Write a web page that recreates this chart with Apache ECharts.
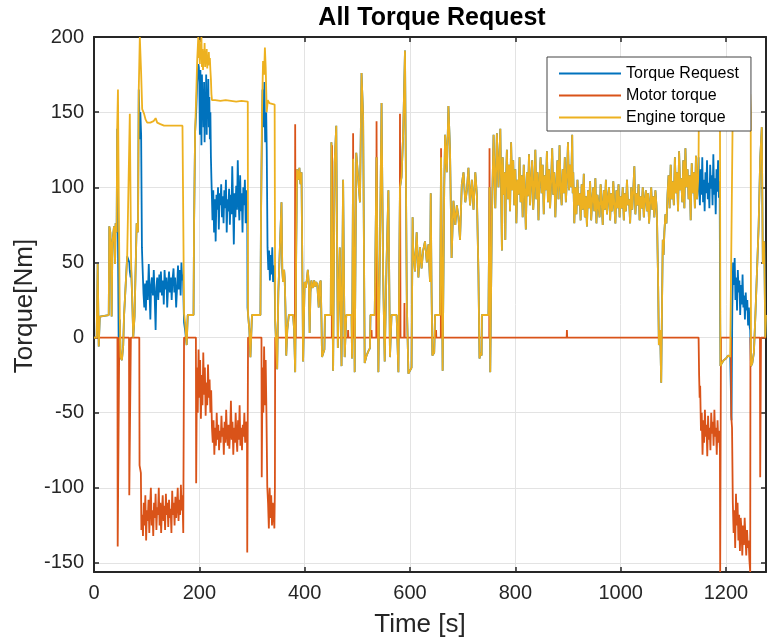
<!DOCTYPE html>
<html>
<head>
<meta charset="utf-8">
<script src="https://cdn.jsdelivr.net/npm/echarts@6/dist/echarts.min.js"></script>
<style>
html,body{margin:0;padding:0;background:#fff;}
#chart{width:767px;height:638px;}
</style>
</head>
<body>
<div id="chart"></div>
<script>
// ---- Data (time [s], torque [Nm]) ----
const seriesNames = ['Torque Request', 'Motor torque', 'Engine torque'];
const xTicks = [0, 200, 400, 600, 800, 1000, 1200];
const yTicks = [-150, -100, -50, 0, 50, 100, 150, 200];

const engineTorque = [
[0,0],[5,0],[7,49],[9,-6],[11,14],[12,15],[28,15],[29,74],[31,70],[32,60],[33.5,14],[35,63],[38,74],[40,49],[41,76],[43,70],[44,139],[45.5,165],[47,94],[49,12],[50.5,-13],[53,-15],[55.5,-5],[57,14],[60,15],[63,54],[66,54],[68,149],[70.5,49],[72.5,27],[74.5,0],[77,14],[79,14],[81,76],[83.5,70],[85,165],[87,200],[89.5,176],[91.5,152],[95,149],[98,145],[101,143],[107,143],[110,144],[113,144],[117,146],[120,143],[126,142],[133,141],[150,141],[168,141],[170,140],[171,16],[173,10],[176,-5],[178,15],[189,15],[190,75],[192,137],[194,160],[196,185],[198,200],
[199,186],[200,198],[201,182],[202,195],[203,185],[204,200],[205,180],[206,192],[207,178],[208,190],[209,183],[210,196],[211,180],[212,188],[213,184],[214,192],[215,179],[216,187],[217,181],[218,190],[219,182],[220,186],[221,178],[222,172],[223,162],[224,158],[230,158],[240,157.5],[250,158],[260,157.5],[270,157],[280,157.5],[292,157],
[292.5,15],[295,5],[297,-13],[299,-12],[300,15],[316,15],[317,75],[319,150],[321,184],[323,175],[324.5,193],[326,180],[328,150],[330,158],[333,156],[343,155],
[344,11],[347.8,-21],[350,30],[353,60],[356,90],[357.5,45],[359,37],[361,45],[362,40],[363.5,20],[365,-12],[367,5],[370,15],[378,15],[380,5],[382,-23],[384,60],[385.5,112],[388,105],[390,113],[392,102],[394,110],[396,30],[397,-16],[399,20],[400,37],
[402,33],[404,38],[406,45],[408,35],[409.5,3],[411,30],[412.7,38],[414,35],[416,33],[418,38],[420,34],[422,37],[424,35],[426.7,20],[428.5,36],[430.5,38],[432,10],[433,-13],[436,-12],[437.5,-8],[438.5,15],[449.5,15],
[450.8,130],[454,-22],[457,117],[460,141],[463,-7],[466.7,60],[470,-19],[473,105],[476,-13],[479,15],[489,15],[490,-14],[492,119],[495,-23],[498,123],[501.6,124],[505,90],[508,176],[511,147],[514,-17],[517.5,-12],[521,-9],[524,-7],[525,15],[533,15],[536.5,120],[540,-23],[543,60],[546,156],[549,42],[552,-16],[555.5,50],[559,98],[562,-13],[565,15],[574.6,15],[578,-23],[581,100],[584,107],[587,135],[590.5,191],[592,120],[594,23],[597,-24],[600,-25],[603,-20],[605,80],
[606,60],[609.5,44],[612.7,70],[616,40],[619,60],[622,46],[625,58],[628.5,64],[632,50],[635,62],[638,37],[639.4,96],[641,30],[642.5,-12],[646,-10],[647.6,15],[657,15],[659,120],[662,-22],[665,100],[666.7,135],[670,110],[673,154],[676,125],[679,53],[682.5,91],[686,75],[689,88],[692,80],[695,65],[698.4,102],[701.6,110],[705,90],[708,98],[711,113],[714,88],[717.5,105],[720.6,85],[724,110],[727,95],[729,60],[730,42],[732,-14],[734,-10],[736,-12],[736.5,15],[749,15],[751,100],[752.4,-23],[755.5,80],[758.7,135],[762,86],[765,136],[768,100],[771.5,139],[774.6,58],
[776,120],[778,95],[780,110],[781,65],[782,100],[784,125],[786,92],[788,115],[790,84],[792,130],[794,98],[796,118],[798,88],[800,112],[802,76],[804,105],[806,95],[808,120],[810,90],[812,108],[814,80],[816,115],[818,98],[820,72],[822,110],[824,94],[826,122],[828,88],[830,104],[832,118],[834,85],[836,100],[838,125],[840,92],[842,110],[844,78],[846,106],[848,120],[850,96],[852,115],[854,82],[856,108],[858,98],[860,124],[862,90],[864,112],[866,86],[868,104],[870,126],[872,95],[874,110],[876,80],[878,102],[880,118],[882,92],[884,128],[886,100],[888,88],[890,112],[892,96],[894,120],[896,90],[898,106],[900,130],[902,98],[904,115],[906,100],[908,135],[909,96],[910,110],[912,76],[914,100],[916,82],[918,105],[920,88],[922,96],[924,78],[926,102],[928,85],[930,109],[932,80],[934,94],[936,74],[938,98],[940,86],[942,104],[944,78],[946,92],[948,100],[950,84],[952,106],[954,76],[956,95],[958,88],[960,80],[962,102],[964,90],[966,75],[968,98],[970,85],[972,105],[974,82],[976,93],[978,100],[980,78],[982,96],[984,84],[986,104],[988,88],[990,76],[992,98],[994,86],[996,102],[998,80],[1000,94],[1002,86],[1004,100],[1006,78],[1008,96],[1010,84],[1012,105],[1014,88],[1016,92],[1018,76],[1020,100],[1022,85],[1024,98],[1026,114],[1028,82],[1030,96],[1032,88],[1034,102],[1036,78],[1038,94],[1040,86],[1042,100],[1044,80],[1046,92],[1048,98],[1050,84],[1052,96],[1054,76],[1056,90],[1058,100],[1060,85],[1062,94],[1064,80],[1066,98],[1068,88],[1069,80],[1071,40],[1072.6,-5],[1075,5],[1077,-30],[1078.5,20],[1080,65],[1081.5,55],[1083,70],[1085,82],[1087,76],[1089,95],[1091,108],[1093,86],[1095,115],[1097,92],[1099,104],[1101,88],[1103,120],[1105,96],[1107,110],[1109,84],[1111,124],[1113,98],[1115,106],[1117,90],[1119,118],[1121,86],[1123,126],[1125,100],[1127,112],[1129,92],[1131,108],[1133,78],[1135,116],[1137,96],[1139,110],[1141,86],[1143,121],[1145,92],[1147,104],[1148,120],
[1148.7,160],[1149.5,170],[1151,155],[1153,175],[1155,150],[1157,168],[1159,158],[1161,178],[1163,152],[1165,170],[1167,160],[1169,176],[1171,150],[1173,166],[1175,158],[1177,174],[1179,155],[1181,168],[1183,150],[1185,172],[1187,160],[1188.5,165],[1189.5,-19],[1192,-17],[1196,-15],[1200,-14],[1204,-12],[1208,-13],[1211,-12],[1212.5,140],[1214,165],[1216,150],[1218,172],[1220,158],[1222,176],[1224,150],[1226,168],[1228,155],[1230,178],[1232,160],[1234,170],[1236,152],[1238,166],[1240,158],[1242,175],[1244,150],[1246,162],[1247,150],[1247.5,-19],[1250,-17],[1253,-10],[1256,16],[1259,16],[1262,74],[1265,119],[1268,140],[1270,49],[1272.7,64],[1274.6,0],[1276,15]
];

const motorTorque = [
[0,0],[44.5,0],[45,-139],[47.5,-139],[48,0],[66.5,0],[67,-105],[69.5,-105],[70,0],[86,0],[86.5,-85],[89,-90],[90,-128],[91.5,-118],[93,-132],[94.5,-110],[96,-125],[97.5,-105],[99,-135],[100.5,-115],[102,-122],[103.5,-108],[105,-130],[106.5,-112],[108,-100],[109.5,-125],[111,-115],[112.5,-132],[114,-110],[115.5,-120],[117,-104],[118.5,-128],[120,-113],[121.5,-118],[123,-100],[124.5,-125],[126,-110],[127.5,-130],[129,-115],[130.5,-105],[132,-122],[133.5,-112],[135,-128],[136.5,-104],[138,-118],[139.5,-110],[141,-126],[142.5,-108],[144,-120],[145.5,-114],[147,-130],[148.5,-102],[150,-118],[151.5,-110],[153,-125],[154.5,-106],[156,-120],[157.5,-112],[159,-100],[160.5,-122],[162,-108],[163.5,-118],[165,-98],[166.5,-115],[168,-105],[169.5,-130],[170.5,-130],[171,0],
[193.5,0],[194,-97],[195.5,-20],[197,-50],[198.5,-8],[200,-40],[201.5,-15],[203,-54],[204.5,-25],[206,-45],[207.5,-10],[209,-38],[210.5,-20],[212,-52],[213.5,-30],[215,-45],[216.5,-18],[218,-40],[219.5,-28],[221,-50],[222.5,-35],[224,-60],[225.5,-70],[227,-55],[228.5,-78],[230,-60],[231.5,-72],[233,-50],[234.5,-68],[236,-58],[237.5,-75],[239,-62],[240.5,-70],[242,-52],[243.5,-66],[245,-60],[246.5,-78],[248,-56],[249.5,-70],[251,-48],[252.5,-64],[254,-72],[255.5,-58],[257,-74],[258.5,-62],[260,-42],[261.5,-68],[263,-56],[264.5,-78],[266,-60],[267.5,-70],[269,-50],[270.5,-66],[272,-76],[273.5,-55],[275,-68],[276.5,-45],[278,-72],[279.5,-60],[281,-75],[282.5,-58],[284,-66],[285.5,-50],[287,-70],[288.5,-56],[290.5,-60],[291,-143],[292,-143],[292.5,0],
[318,0],[318.5,-93],[320,-20],[321.5,-50],[323,-6],[324.5,-45],[326,-15],[327.5,-52],[329,-99],[330.5,-110],[332,-127],[333.5,-100],[335,-120],[336.5,-105],[338,-125],[339.5,-110],[341,-118],[342.5,-127],[343.5,-100],[344,0],
[381.5,0],[382,142],[383,0],[451.5,0],[452,128],[453,62],[453.5,0],[482,0],[482.5,5],[483,0],[491.5,0],[492,136],[493,0],[526.5,0],[527,5],[527.5,0],[536,0],[536.5,144],[537.5,0],[580.5,0],[581,149],[582,0],[589,0],[589.5,23],[590,0],[649,0],[649.5,5],[650,0],[658.5,0],[659,126],[660,0],[750.5,0],[751,126],[752,0],[897.5,0],[898,5],[898.5,0],
[1148,0],[1149,-25],[1150,-40],[1151,-32],[1152.5,-62],[1154,-50],[1155.5,-78],[1157,-55],[1158.5,-70],[1160,-48],[1161.5,-66],[1163,-58],[1164.5,-79],[1166,-52],[1167.5,-68],[1169,-60],[1170.5,-75],[1172,-50],[1173.5,-64],[1175,-56],[1176.5,-72],[1178,-48],[1179.5,-66],[1181,-60],[1182.5,-78],[1184,-55],[1185.5,-70],[1187,-62],[1188.5,-74],[1189,-156],[1190,-156],[1190.5,0],
[1209.5,0],[1210,-52],[1211.5,-60],[1213,-110],[1214.5,-130],[1216,-115],[1217.5,-140],[1219,-104],[1220.5,-125],[1222,-110],[1223.5,-135],[1225,-118],[1226.5,-142],[1228,-120],[1229.5,-128],[1231,-145],[1232.5,-125],[1234,-138],[1235.5,-120],[1237,-132],[1238.5,-145],[1240,-128],[1241.5,-140],[1243,-135],[1244.5,-148],[1246,-156],[1246.5,0],[1264.5,0],[1265,-93],[1266,-93],[1266.5,0],[1276,0]
];

const requestOwnA = [
[44,139],[45,138],[46,40],[47,-15],[49,12],[50.5,-13],[53,-15],[55.5,-5],[57,14],[60,15],[63,54],[66,54],[67,50],[68,44],[69.5,40],[70.5,45],[72.5,27],[74.5,0],[77,14],[79,14],[81,76],[83.5,70],[85,165],[86,150],[87,132],[88,150],[89.5,135],[91,60],
[92,49],[94,29],[95.5,20],[97,36],[98.5,18],[100,38],[102,25],[104,49],[105.5,30],[107,12],[108.5,35],[110,40],[112,28],[113.5,45],[115,30],[117,5],[118.5,33],[120,40],[122,25],[124,42],[125.5,30],[127,44],[129,28],[131,38],[132.5,22],[134,45],[136,32],[137.5,40],[139,20],[141,36],[142.5,44],[144,30],[146,40],[147.5,25],[149,38],[151,46],[152.5,30],[154,40],[156,20],[158,35],[159.5,48],[161,32],[163,45],[164.5,28],[166,50],[167.5,38],[169,42],[170,25],[171,10],[173,5],[176,-5],[178,15],[189,15],[190,75],[192,137],[194,150],[196,170],[198,182],
[199,180],[200,170],[201,135],[202,178],[203,160],[204,128],[205,175],[206,150],[207,165],[208,140],[209,170],[210,130],[211,160],[212,145],[213,175],[214,135],[215,165],[216,150],[217,172],[218,140],[219,160],[220,132],[221,150],[222,120],[223,105],[224,92],
[225,78],[226.5,98],[228,70],[229.5,92],[231,64],[232.5,95],[234,85],[235.5,100],[237,72],[238.5,96],[240,88],[241.5,102],[243,80],[244.5,94],[246,76],[247.5,98],[249,86],[250.5,105],[252,70],[253.5,92],[255,84],[256.5,99],[258,75],[259.5,95],[261,82],[262.5,114],[264,90],[265.5,62],[267,96],[268.5,80],[270,101],[271.5,85],[273,118],[274.5,92],[276,78],[277.5,108],[279,84],[280.5,96],[282,70],[283.5,100],[285,88],[286.5,105],[288,76],[289.5,98],[291,90],[291.5,20],[295,5],[297,-13],[299,-12],[300,15],[316,15],[317,75],[318,110],[320,165],[322,140],[323.5,170],[325,130],[327,150],[328,125],[329.5,60],[331,45],[332.5,58],[334,38],[335.5,55],[337,42],[338.5,60],[340,37],[341.5,48],[343,40]
];

const requestOwnB = [
[1149,100],[1150.5,88],[1152,112],[1153.5,95],[1155,120],[1156.5,90],[1158,105],[1159.5,84],[1161,110],[1162.5,96],[1164,118],[1165.5,92],[1167,103],[1168.5,86],[1170,115],[1171.5,99],[1173,108],[1174.5,88],[1176,122],[1177.5,95],[1179,106],[1180.5,82],[1182,112],[1183.5,97],[1185,118],[1186.5,93],[1188,104],[1189,9],[1189.5,-19],[1192,-17],[1196,-15],[1200,-14],[1204,-12],[1208,-13],[1210,-12],[1210.5,-55],[1212,20],[1213.5,50],[1215,35],[1216.5,53],[1218,25],[1219.5,40],[1221,18],[1222.5,45],[1224,30],[1225.5,38],[1227,15],[1228.5,35],[1230,22],[1231.5,42],[1233,20],[1234.5,28],[1236,12],[1237.5,30],[1239,18],[1240.5,25],[1242,8],[1243.5,20],[1245,7],[1246,5]
];

// Where the request equals the engine torque, the same read values are reused.
const torqueRequest = engineTorque.filter(p => p[0] < 44)
  .concat(requestOwnA)
  .concat(engineTorque.filter(p => p[0] > 343.5 && p[0] < 1148.5))
  .concat(requestOwnB)
  .concat(engineTorque.filter(p => p[0] > 1247));

// ---- Chart ----
const colors = ['#0072BD', '#D95319', '#EDB120'];
const textColor = '#262626';
const FONT = 'Liberation Sans, Arial, Helvetica, sans-serif';
const chart = echarts.init(document.getElementById('chart'), null, {renderer: 'canvas'});

function mkLine(name, data, color) {
  return {
    name: name, type: 'line', data: data, showSymbol: false, symbol: 'none',
    lineStyle: {color: color, width: 1.8}, itemStyle: {color: color},
    animation: false, silent: true, z: 2
  };
}
const axisLineStyle = {color: textColor, width: 2};
const tickStyle = {show: true, inside: true, length: 5, lineStyle: {color: textColor, width: 1.5}};

chart.setOption({
  animation: false,
  backgroundColor: '#fff',
  grid: {left: 94, top: 37, right: 1, bottom: 66, show: false},
  xAxis: [{
    type: 'value', min: 0, max: 1276, interval: 200,
    axisLine: {show: true, onZero: false, lineStyle: axisLineStyle},
    axisTick: tickStyle,
    axisLabel: {color: textColor, fontSize: 20, fontFamily: FONT, margin: 11, showMaxLabel: false,
      formatter: v => (xTicks.indexOf(v) >= 0 ? String(v) : '')},
    splitLine: {show: true, lineStyle: {color: '#e3e3e3', width: 1}}
  }, {
    type: 'value', position: 'top', min: 0, max: 1276, interval: 200,
    axisLine: {show: true, onZero: false, lineStyle: axisLineStyle},
    axisTick: tickStyle,
    axisLabel: {show: false}, splitLine: {show: false}
  }],
  yAxis: [{
    type: 'value', min: -156, max: 200, splitNumber: 7,
    axisLine: {show: true, onZero: false, lineStyle: axisLineStyle},
    axisTick: tickStyle,
    axisLabel: {color: textColor, fontSize: 20, fontFamily: FONT, margin: 10, showMinLabel: false,
      formatter: v => (yTicks.indexOf(v) >= 0 ? String(v) : '')},
    splitLine: {show: true, lineStyle: {color: '#e3e3e3', width: 1}}
  }, {
    type: 'value', position: 'right', min: -156, max: 200, splitNumber: 7,
    axisLine: {show: true, onZero: false, lineStyle: axisLineStyle},
    axisTick: tickStyle,
    axisLabel: {show: false}, splitLine: {show: false}
  }],
  legend: {
    show: true, orient: 'vertical', left: 547, top: 57,
    data: seriesNames, icon: 'rect', itemWidth: 62, itemHeight: 2, itemGap: 5,
    padding: [8, 12, 5, 12],
    backgroundColor: '#ffffff', borderColor: '#444444', borderWidth: 1, borderRadius: 0,
    textStyle: {color: '#000', fontSize: 16, fontFamily: FONT, lineHeight: 17},
    selectedMode: false, z: 10
  },
  graphic: [
    {type: 'text', x: 432, y: 18, style: {text: 'All Torque Request', fill: '#000', font: 'bold 25px ' + FONT, align: 'center', verticalAlign: 'middle'}},
    {type: 'text', x: 420, y: 625, style: {text: 'Time [s]', fill: textColor, font: '26px ' + FONT, align: 'center', verticalAlign: 'middle'}},
    {type: 'text', x: 25, y: 306, rotation: Math.PI / 2, style: {text: 'Torque[Nm]', fill: textColor, font: '26px ' + FONT, align: 'center', verticalAlign: 'middle'}}
  ],
  series: [
    mkLine(seriesNames[0], torqueRequest, colors[0]),
    mkLine(seriesNames[1], motorTorque, colors[1]),
    mkLine(seriesNames[2], engineTorque, colors[2])
  ]
});
</script>
</body>
</html>
